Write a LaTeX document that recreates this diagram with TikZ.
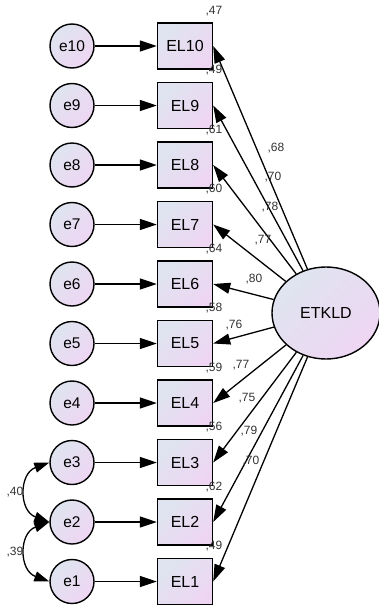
\documentclass[tikz,border=0pt]{standalone}
\usepackage{fontspec}
\setmainfont{Liberation Sans}
\usetikzlibrary{arrows.meta,shapes.geometric}
\definecolor{fillA}{HTML}{DFE4F0}
\definecolor{fillB}{HTML}{EED6F2}
\begin{document}
\begin{tikzpicture}[x=1pt,y=-1pt,
  shadefill/.style={left color=fillA,right color=fillB,shading angle=45},
  errnode/.style={circle,draw,line width=1.4pt,shadefill,minimum size=44pt,inner sep=0pt,font=\fontsize{15.5}{16}\selectfont},
  obsnode/.style={rectangle,draw,line width=1.4pt,shadefill,minimum width=55pt,minimum height=46pt,inner sep=0pt,font=\fontsize{16}{16}\selectfont},
  latnode/.style={ellipse,draw,line width=1.4pt,shadefill,minimum width=108pt,minimum height=92pt,inner sep=0pt,font=\fontsize{16}{16}\selectfont},
  tip/.style={},
  arr/.style={line width=1.3pt,-{Triangle[length=17pt,width=11pt]}},
  darr/.style={line width=1.3pt,{Triangle[length=15pt,width=10pt]}-{Triangle[length=15pt,width=10pt]}},
  lab/.style={font=\fontsize{12}{12}\selectfont,inner sep=0pt,text=black!80}]
\useasboundingbox (0,0) rectangle (379,608);
\foreach \i in {1,...,10}{
  \pgfmathsetmacro{\yy}{46+(10-\i)*59.5}
  \node[errnode] (e\i) at (72,\yy) {e\i};
  \node[obsnode] (EL\i) at (185,\yy) {EL\i};
  \draw[arr] (e\i) -- (EL\i);
}
\node[latnode] (ETKLD) at (326,313) {ETKLD};
\foreach \i in {1,...,10}{
  \draw[arr] (ETKLD) -- (EL\i.east);
}
% squared multiple correlations
\foreach \i/\v in {10/47,9/49,8/61,7/60,6/64,5/58,4/59,3/56,2/62,1/49}{
  \pgfmathsetmacro{\yy}{46+(10-\i)*59.5-35}
  \node[lab] (r\i) at (214,\yy) {,\v};
}
% loadings
\node[lab] (l10) at (276,148) {,68};
\node[lab] (l9) at (273,177) {,70};
\node[lab] (l8) at (270,207) {,78};
\node[lab] (l7) at (263,240) {,77};
\node[lab] (l6) at (254,279) {,80};
\node[lab] (l5) at (234,325) {,76};
\node[lab] (l4) at (241,365) {,77};
\node[lab] (l3) at (247,398) {,75};
\node[lab] (l2) at (249,431) {,79};
\node[lab] (l1) at (251,461) {,70};
% covariances
\draw[darr] (e3.west) to[out=200,in=160,looseness=1.4] (e2.west);
\draw[darr] (e2.west) to[out=200,in=160,looseness=1.4] (e1.west);
\node[lab] (c32) at (15,492) {,40};
\node[lab] (c21) at (15,552) {,39};
\end{tikzpicture}
\end{document}
